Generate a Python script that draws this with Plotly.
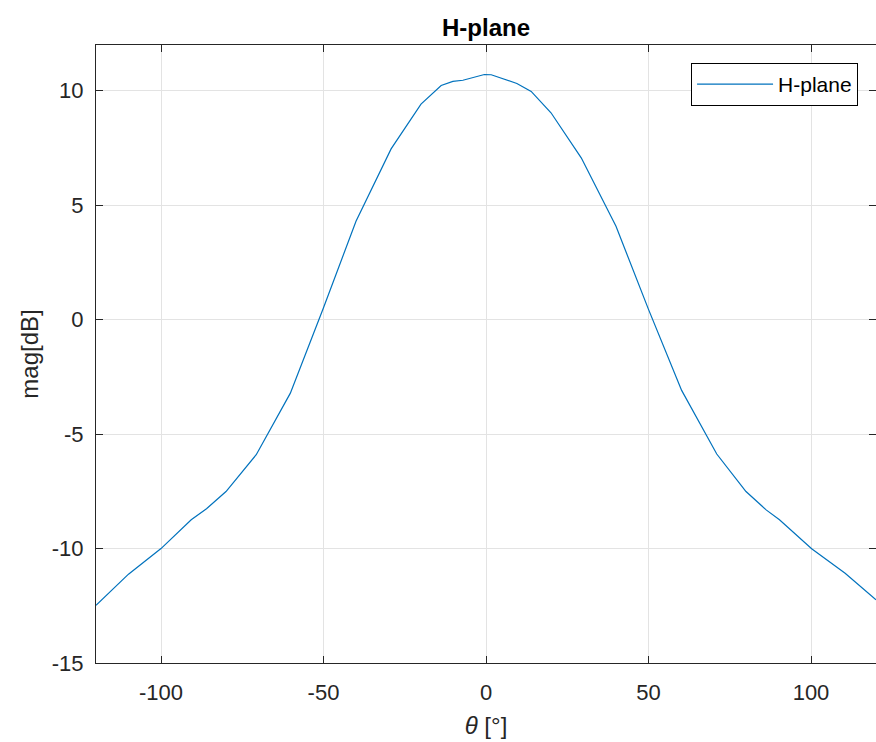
import plotly.graph_objects as go

theta = [-120, -110, -100, -90.7, -86, -80, -70.7, -60.2, -50, -40, -29.2, -20, -13.8, -10.2, -7.1,
         -0.5, 1.6, 9.5, 13.9, 20, 29.3, 40, 50, 60.2, 71, 80, 86.2, 90.3, 100.2, 110.5, 120]
mag = [-12.48, -11.12, -10.0, -8.74, -8.26, -7.51, -5.90, -3.21, 0.52, 4.30, 7.46, 9.42, 10.23, 10.41, 10.46,
       10.71, 10.70, 10.32, 9.97, 9.04, 7.07, 4.08, 0.45, -3.09, -5.87, -7.51, -8.31, -8.74, -10.01, -11.08, -12.24]

x_ticks = [-100, -50, 0, 50, 100]
x_ticklabels = ["-100", "-50", "0", "50", "100"]
y_ticks = [-15, -10, -5, 0, 5, 10]
y_ticklabels = ["-15", "-10", "-5", "0", "5", "10"]

FONT = "Liberation Sans, Arial, Helvetica, sans-serif"
AX = "#262626"
GRID = "#e3e3e3"

fig = go.Figure()
fig.add_trace(go.Scatter(x=theta, y=mag, mode="lines", name="H-plane",
                         line=dict(color="#0072BD", width=1.2)))

axis_common = dict(showline=True, linecolor=AX, linewidth=1, mirror="ticks",
                   ticks="inside", ticklen=7, tickcolor=AX, tickwidth=1,
                   showgrid=True, gridcolor=GRID, gridwidth=1, zeroline=False,
                   tickfont=dict(family=FONT, size=22, color=AX))

fig.update_layout(
    width=876, height=742,
    margin=dict(l=96, r=0, t=45, b=79),
    paper_bgcolor="white", plot_bgcolor="white",
    font=dict(family=FONT, color=AX),
    title=dict(text="<b>H-plane</b>", x=0.5, xref="paper", xanchor="center",
               y=1, yref="paper", yanchor="bottom", pad=dict(b=9),
               font=dict(family=FONT, size=24, color="#000000")),
    xaxis=dict(range=[-120, 120], tickvals=x_ticks, ticktext=x_ticklabels,
               title=dict(text="<i>θ</i> [°]", font=dict(family=FONT, size=24, color=AX), standoff=12),
               ticklabelstandoff=10, **axis_common),
    yaxis=dict(range=[-15, 12], tickvals=y_ticks, ticktext=y_ticklabels,
               title=dict(text="mag[dB]", font=dict(family=FONT, size=24, color=AX), standoff=6),
               ticklabelstandoff=7, **axis_common),
    showlegend=True,
    legend=dict(x=0.977, y=0.971, xanchor="right", yanchor="top",
                bgcolor="white", bordercolor="#000000", borderwidth=1,
                font=dict(family=FONT, size=21, color="#000000"),
                itemwidth=76),
)

fig.write_html("out.html", config={"displayModeBar": False},
               post_script="document.body.style.margin='0';document.body.style.overflow='hidden';")
